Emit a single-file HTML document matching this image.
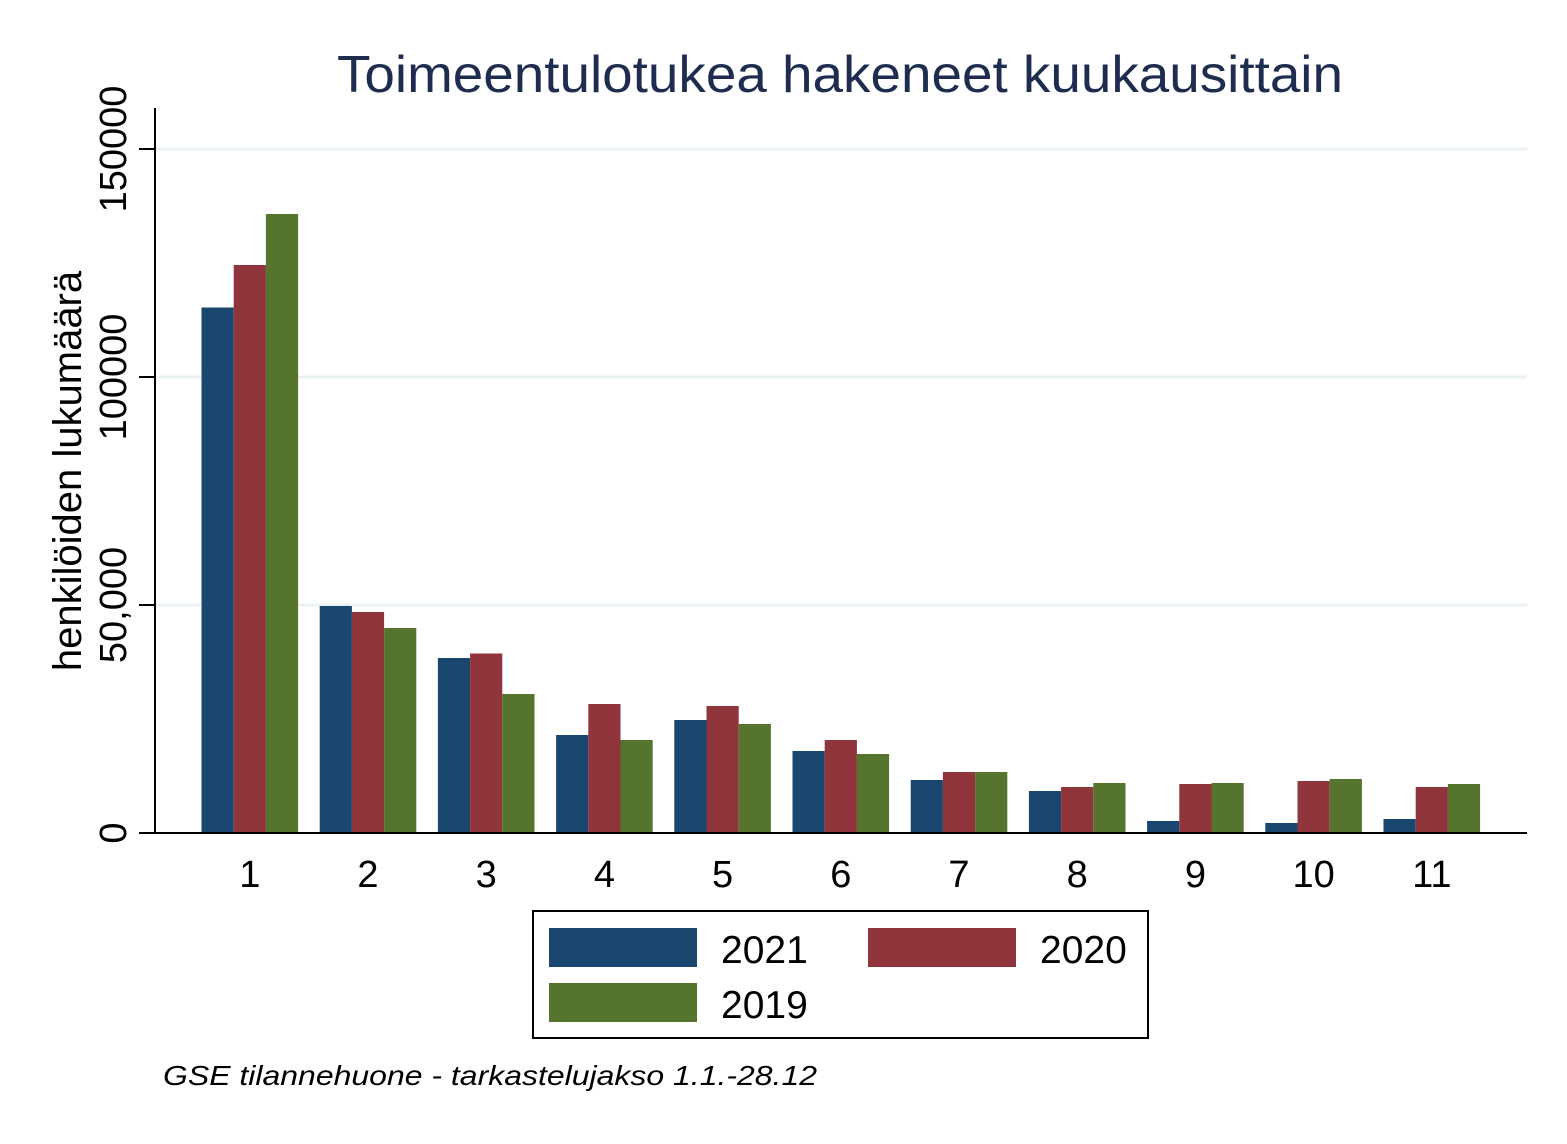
<!DOCTYPE html>
<html><head><meta charset="utf-8"><style>html,body{margin:0;padding:0;background:#fff}</style></head>
<body>
<svg width="1567" height="1139" xmlns="http://www.w3.org/2000/svg" font-family="Liberation Sans, Arial, sans-serif">
<rect width="1567" height="1139" fill="#fff"/>
<text x="337" y="92" font-size="52" fill="#1e2d4f" textLength="1006" lengthAdjust="spacingAndGlyphs">Toimeentulotukea hakeneet kuukausittain</text>
<g stroke="#eaf2f3" stroke-width="3">
<line x1="156" y1="149" x2="1527" y2="149"/>
<line x1="156" y1="377" x2="1527" y2="377"/>
<line x1="156" y1="605" x2="1527" y2="605"/>
</g>
<g>
<rect x="201.5" y="307.5" width="32.2" height="525.5" fill="#1a476f"/><rect x="233.7" y="265" width="32.2" height="568" fill="#90353b"/><rect x="265.9" y="214" width="32.2" height="619" fill="#55752f"/>
<rect x="319.7" y="606" width="32.2" height="227" fill="#1a476f"/><rect x="351.9" y="612" width="32.2" height="221" fill="#90353b"/><rect x="384.1" y="628" width="32.2" height="205" fill="#55752f"/>
<rect x="437.9" y="658" width="32.2" height="175" fill="#1a476f"/><rect x="470.1" y="653.5" width="32.2" height="179.5" fill="#90353b"/><rect x="502.3" y="694" width="32.2" height="139" fill="#55752f"/>
<rect x="556.1" y="735" width="32.2" height="98" fill="#1a476f"/><rect x="588.3" y="704" width="32.2" height="129" fill="#90353b"/><rect x="620.5" y="740" width="32.2" height="93" fill="#55752f"/>
<rect x="674.3" y="720" width="32.2" height="113" fill="#1a476f"/><rect x="706.5" y="706" width="32.2" height="127" fill="#90353b"/><rect x="738.7" y="724" width="32.2" height="109" fill="#55752f"/>
<rect x="792.5" y="751" width="32.2" height="82" fill="#1a476f"/><rect x="824.7" y="740" width="32.2" height="93" fill="#90353b"/><rect x="856.9" y="754" width="32.2" height="79" fill="#55752f"/>
<rect x="910.7" y="780" width="32.2" height="53" fill="#1a476f"/><rect x="942.9" y="772" width="32.2" height="61" fill="#90353b"/><rect x="975.1" y="772" width="32.2" height="61" fill="#55752f"/>
<rect x="1028.9" y="791" width="32.2" height="42" fill="#1a476f"/><rect x="1061.1" y="787" width="32.2" height="46" fill="#90353b"/><rect x="1093.3" y="783" width="32.2" height="50" fill="#55752f"/>
<rect x="1147.1" y="821" width="32.2" height="12" fill="#1a476f"/><rect x="1179.3" y="784" width="32.2" height="49" fill="#90353b"/><rect x="1211.5" y="783" width="32.2" height="50" fill="#55752f"/>
<rect x="1265.3" y="823" width="32.2" height="10" fill="#1a476f"/><rect x="1297.5" y="781" width="32.2" height="52" fill="#90353b"/><rect x="1329.7" y="779" width="32.2" height="54" fill="#55752f"/>
<rect x="1383.5" y="819" width="32.2" height="14" fill="#1a476f"/><rect x="1415.7" y="787" width="32.2" height="46" fill="#90353b"/><rect x="1447.9" y="784" width="32.2" height="49" fill="#55752f"/>
</g>
<line x1="155" y1="108" x2="155" y2="834" stroke="#000" stroke-width="2"/>
<line x1="139" y1="833" x2="1527" y2="833" stroke="#000" stroke-width="2"/>
<g stroke="#000" stroke-width="2">
<line x1="139" y1="149" x2="155" y2="149"/><line x1="139" y1="377" x2="155" y2="377"/><line x1="139" y1="605" x2="155" y2="605"/>
</g>
<g font-size="38" fill="#000" text-anchor="middle">
<text transform="translate(126,149) rotate(-90)">150000</text>
<text transform="translate(126,377) rotate(-90)">100000</text>
<text transform="translate(126,605) rotate(-90)">50,000</text>
<text transform="translate(126,833) rotate(-90)">0</text>
<text transform="translate(81,471) rotate(-90)" font-size="40">henkilöiden lukumäärä</text>
</g>
<g font-size="38" fill="#000" text-anchor="middle">
<text x="249.8" y="887">1</text><text x="368" y="887">2</text><text x="486.2" y="887">3</text><text x="604.4" y="887">4</text><text x="722.6" y="887">5</text><text x="840.8" y="887">6</text><text x="959" y="887">7</text><text x="1077.2" y="887">8</text><text x="1195.4" y="887">9</text><text x="1313.6" y="887">10</text><text x="1431.8" y="887">11</text>
</g>
<rect x="533" y="911" width="615" height="127" fill="#fff" stroke="#000" stroke-width="2"/>
<rect x="549" y="928" width="148" height="39" fill="#1a476f"/>
<rect x="868" y="928" width="148" height="39" fill="#90353b"/>
<rect x="549" y="983" width="148" height="39" fill="#55752f"/>
<g font-size="39" fill="#000">
<text x="721" y="963">2021</text>
<text x="1040" y="963">2020</text>
<text x="721" y="1018">2019</text>
</g>
<text x="163" y="1085" font-size="28" font-style="italic" fill="#000" textLength="654" lengthAdjust="spacingAndGlyphs">GSE tilannehuone - tarkastelujakso 1.1.-28.12</text>
</svg>
</body></html>
